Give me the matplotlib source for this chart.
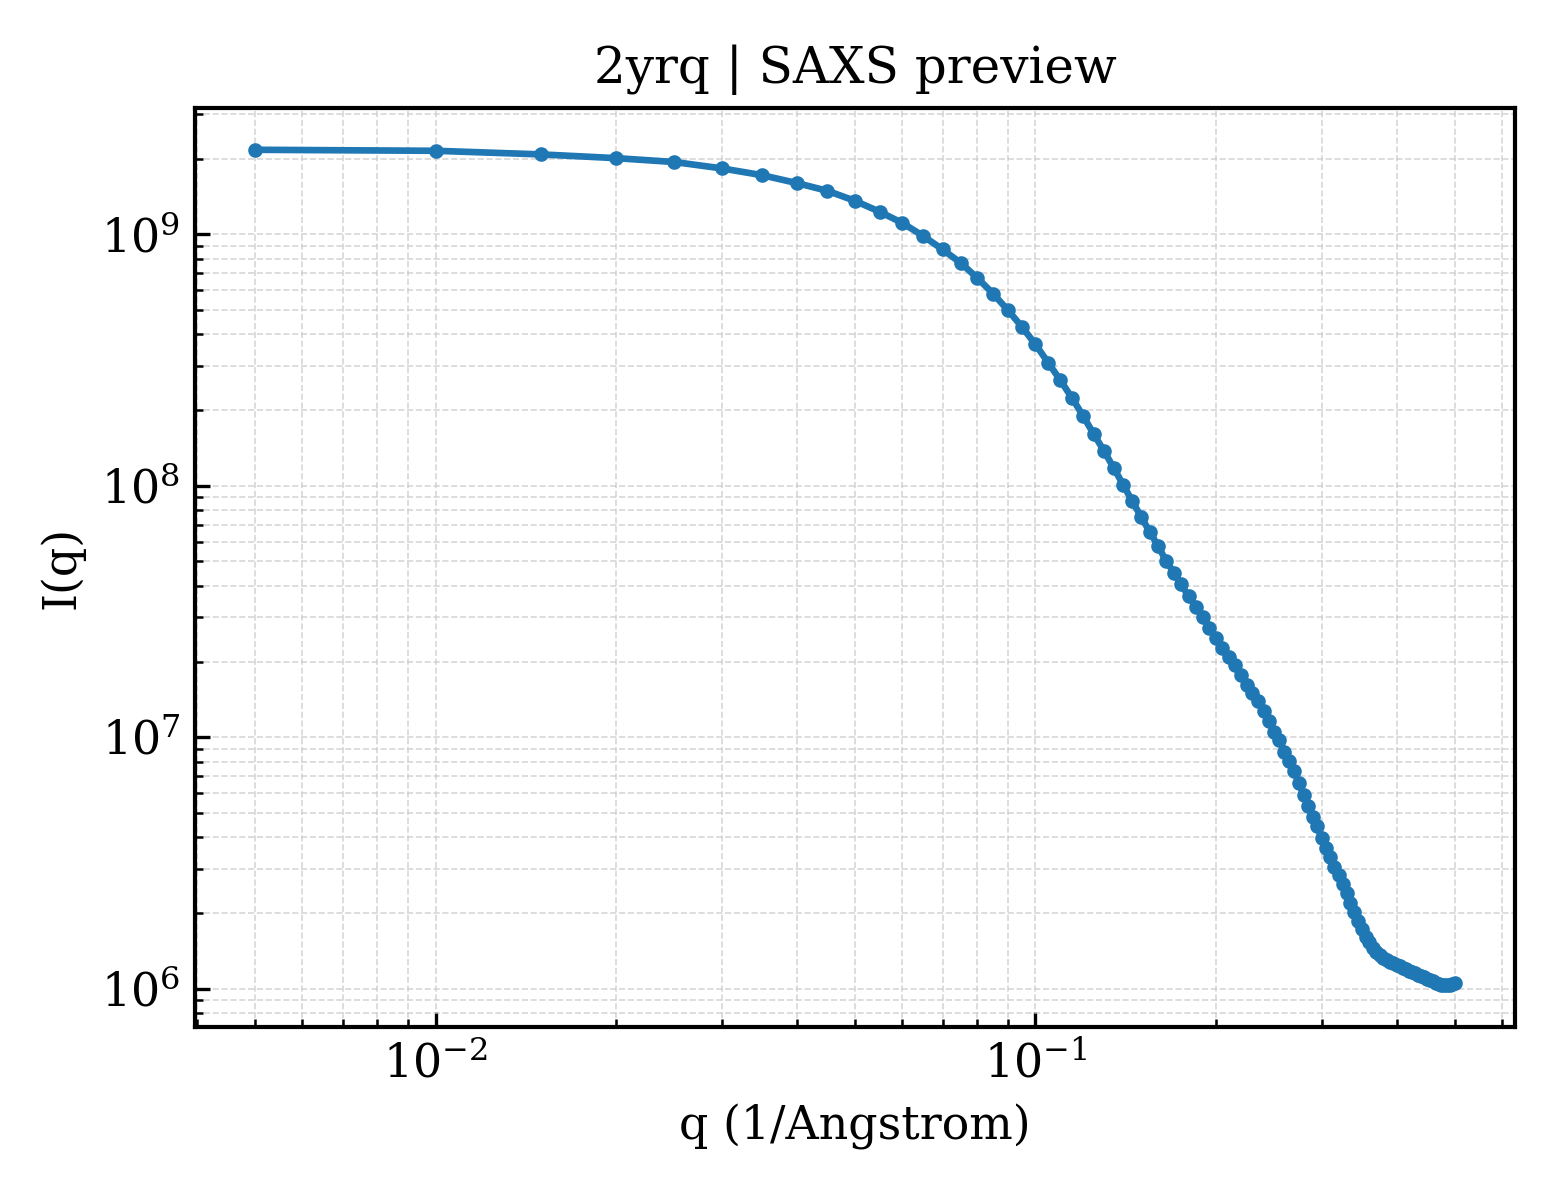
import matplotlib
matplotlib.use("Agg")
import matplotlib.pyplot as plt

plt.rcParams["font.family"] = ["DejaVu Serif"]
plt.rcParams["mathtext.fontset"] = "dejavuserif"

# q values (1/Angstrom), step 0.005
q = [0.005, 0.010, 0.015, 0.020, 0.025, 0.030, 0.035, 0.040, 0.045, 0.050,
     0.055, 0.060, 0.065, 0.070, 0.075, 0.080, 0.085, 0.090, 0.095, 0.100,
     0.105, 0.110, 0.115, 0.120, 0.125, 0.130, 0.135, 0.140, 0.145, 0.150,
     0.155, 0.160, 0.165, 0.170, 0.175, 0.180, 0.185, 0.190, 0.195, 0.200,
     0.205, 0.210, 0.215, 0.220, 0.225, 0.230, 0.235, 0.240, 0.245, 0.250,
     0.255, 0.260, 0.265, 0.270, 0.275, 0.280, 0.285, 0.290, 0.295, 0.300,
     0.305, 0.310, 0.315, 0.320, 0.325, 0.330, 0.335, 0.340, 0.345, 0.350,
     0.355, 0.360, 0.365, 0.370, 0.375, 0.380, 0.385, 0.390, 0.395, 0.400,
     0.405, 0.410, 0.415, 0.420, 0.425, 0.430, 0.435, 0.440, 0.445, 0.450,
     0.455, 0.460, 0.465, 0.470, 0.475, 0.480, 0.485, 0.490, 0.495, 0.500]

# intensity
intensity = [2.17e9, 2.15e9, 2.08e9, 2.01e9, 1.94e9, 1.83e9, 1.72e9, 1.60e9, 1.49e9, 1.36e9,
             1.23e9, 1.11e9, 9.85e8, 8.71e8, 7.71e8, 6.71e8, 5.81e8, 4.99e8, 4.28e8, 3.65e8,
             3.09e8, 2.63e8, 2.24e8, 1.90e8, 1.61e8, 1.38e8, 1.18e8, 1.01e8, 8.69e7, 7.53e7,
             6.57e7, 5.78e7, 5.04e7, 4.52e7, 4.06e7, 3.63e7, 3.31e7, 3.02e7, 2.73e7, 2.49e7,
             2.27e7, 2.09e7, 1.93e7, 1.77e7, 1.62e7, 1.50e7, 1.39e7, 1.27e7, 1.16e7, 1.05e7,
             9.78e6, 8.77e6, 8.01e6, 7.31e6, 6.57e6, 5.88e6, 5.35e6, 4.83e6, 4.42e6, 3.99e6,
             3.64e6, 3.34e6, 3.06e6, 2.82e6, 2.61e6, 2.40e6, 2.19e6, 2.02e6, 1.86e6, 1.73e6,
             1.61e6, 1.53e6, 1.45e6, 1.40e6, 1.36e6, 1.33e6, 1.30e6, 1.28e6, 1.26e6, 1.24e6,
             1.23e6, 1.21e6, 1.195e6, 1.18e6, 1.163e6, 1.149e6, 1.135e6, 1.121e6, 1.108e6, 1.095e6,
             1.081e6, 1.068e6, 1.055e6, 1.044e6, 1.036e6, 1.032e6, 1.030e6, 1.033e6, 1.041e6, 1.051e6]

fig, ax = plt.subplots(figsize=(5.2, 4), dpi=300)
fig.subplots_adjust(left=0.125, right=0.971, top=0.91, bottom=0.144)

ax.plot(q, intensity, "-o", color="#1f77b4", lw=1.6, ms=2.5)
ax.set_xscale("log")
ax.set_yscale("log")

ax.set_xlabel("q (1/Angstrom)", fontsize=11)
ax.set_ylabel("I(q)", fontsize=11)
ax.set_title("2yrq | SAXS preview", fontsize=12)

ax.tick_params(which="both", direction="in", labelsize=11)
ax.grid(True, which="both", ls="--", lw=0.4, color="#cccccc", alpha=0.8)
for s in ax.spines.values():
    s.set_linewidth(1.0)

fig.savefig("out.png", dpi=300)
